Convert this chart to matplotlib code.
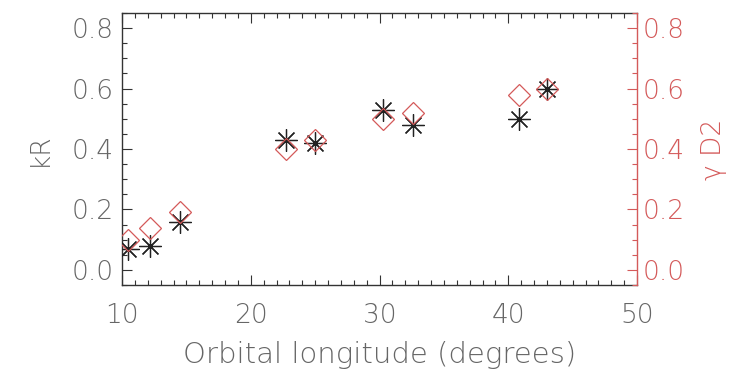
import matplotlib
matplotlib.use("Agg")
import matplotlib.pyplot as plt
from matplotlib.ticker import MultipleLocator

# values
lon = [10.5, 12.2, 14.5, 22.7, 25.0, 30.3, 32.6, 40.8, 43.0]
kr = [0.07, 0.08, 0.16, 0.43, 0.42, 0.53, 0.48, 0.50, 0.60]
gd2 = [0.10, 0.14, 0.19, 0.40, 0.43, 0.50, 0.52, 0.58, 0.60]
xticks = [10, 20, 30, 40, 50]
yticks = [0.0, 0.2, 0.4, 0.6, 0.8]

grey = '#666666'
red = '#d45a5a'
fs = 19

plt.rcParams['font.family'] = ['DejaVu Sans']
plt.rcParams['font.weight'] = 'light'
plt.rcParams['axes.labelweight'] = 'light'

fig = plt.figure(figsize=(7.36, 3.78), dpi=100)
ax = fig.add_axes([0.1658, 0.246, 0.6997, 0.7196])
ax2 = ax.twinx()

ax.plot(lon, kr, linestyle='none', marker=(8, 2, 0), markersize=16,
        markeredgecolor='#222222', markeredgewidth=0.9, zorder=3)
ax2.plot(lon, gd2, linestyle='none', marker='D', markersize=11,
         markerfacecolor='none', markeredgecolor=red, markeredgewidth=0.9)

ax.set_xlim(10, 50)
ax.set_ylim(-0.05, 0.85)
ax2.set_ylim(-0.05, 0.85)
ax.set_xticks(xticks)
ax.set_xticklabels([str(t) for t in xticks])
ax.set_yticks(yticks)
ax.set_yticklabels(['%.1f' % t for t in yticks])
ax2.set_yticks(yticks)
ax2.set_yticklabels(['%.1f' % t for t in yticks])
ax.xaxis.set_minor_locator(MultipleLocator(1))
ax.yaxis.set_minor_locator(MultipleLocator(0.05))
ax2.yaxis.set_minor_locator(MultipleLocator(0.05))

ax.tick_params(axis='x', which='both', direction='in', top=True, bottom=True,
               colors='#333333', labelcolor=grey, labelsize=fs, pad=13)
ax.tick_params(axis='y', which='both', direction='in', left=True, right=False,
               colors='#333333', labelcolor=grey, labelsize=fs, pad=6)
ax2.tick_params(axis='y', which='both', direction='in', colors=red,
                labelcolor=red, labelsize=fs, pad=4)
for a in (ax, ax2):
    a.tick_params(which='major', length=7, width=0.8)
    a.tick_params(which='minor', length=3.5, width=0.8)

for s in ['left', 'bottom', 'top']:
    ax.spines[s].set_color('#333333')
    ax.spines[s].set_linewidth(1.0)
ax.spines['right'].set_visible(False)
ax2.spines['right'].set_color(red)
ax2.spines['right'].set_linewidth(1.0)
for s in ['left', 'bottom', 'top']:
    ax2.spines[s].set_visible(False)

ax.set_xlabel('Orbital longitude (degrees)', fontsize=21, color=grey,
              fontweight='light', labelpad=9)
ax.set_ylabel('kR', fontsize=fs, color=grey, fontweight='light', labelpad=14)
ax2.set_ylabel('\u03b3 D2', fontsize=fs, color=red, fontweight='light',
               rotation=90, labelpad=12)

fig.savefig('out.png', dpi=100)
